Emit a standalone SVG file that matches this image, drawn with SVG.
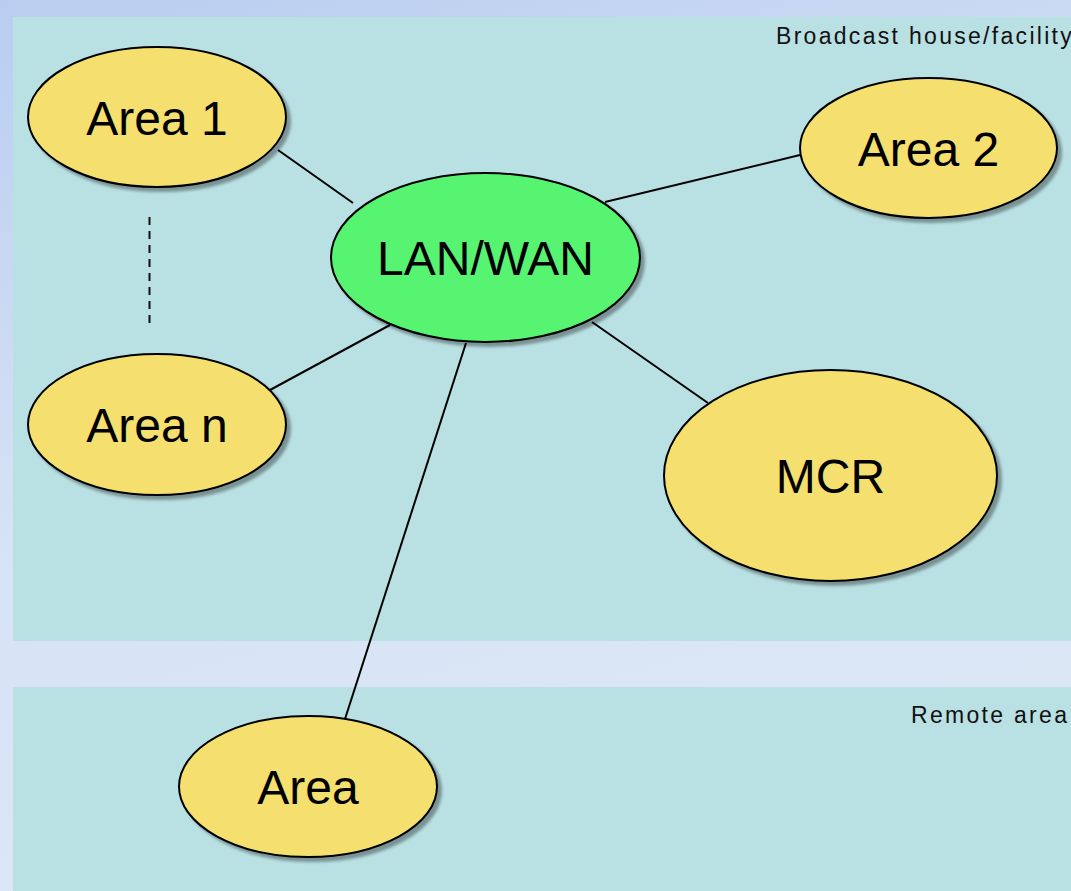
<svg xmlns="http://www.w3.org/2000/svg" width="1071" height="891" viewBox="0 0 1071 891">
  <defs>
    <linearGradient id="bg" x1="0" y1="0" x2="0.35" y2="1">
      <stop offset="0" stop-color="#bacdf0"/>
      <stop offset="0.55" stop-color="#d6e3f5"/>
      <stop offset="1" stop-color="#dce7f6"/>
    </linearGradient>
    <filter id="shadow" x="-10%" y="-10%" width="125%" height="130%">
      <feGaussianBlur in="SourceAlpha" stdDeviation="1.5"/>
      <feOffset dx="4" dy="4" result="off"/>
      <feComponentTransfer><feFuncA type="linear" slope="0.35"/></feComponentTransfer>
      <feMerge><feMergeNode/><feMergeNode in="SourceGraphic"/></feMerge>
    </filter>
  </defs>
  <style>
    .zone { fill: #b9e0e3; }
    .zone-label { font-family: "Liberation Sans", Arial, sans-serif; font-size: 23px; letter-spacing: 2.3px; fill: #111; }
    .area { fill: #f5df6e; stroke: #000; stroke-width: 2; filter: url(#shadow); }
    .net { fill: #57f471; stroke: #000; stroke-width: 2; filter: url(#shadow); }
    .label { font-family: "Liberation Sans", Arial, sans-serif; font-size: 48px; fill: #000; text-anchor: middle; }
    .link { stroke: #000; stroke-width: 2; fill: none; }
    .dashed { stroke: #111; stroke-width: 2; stroke-dasharray: 8 6; }
  </style>

  <!-- page background -->
  <rect x="0" y="0" width="1071" height="891" fill="url(#bg)"/>

  <!-- zones -->
  <g id="zone-facility">
    <rect class="zone" x="13" y="17" width="1058" height="624"/>
    <text class="zone-label" x="776" y="43.5">Broadcast house/facility</text>
  </g>
  <g id="zone-remote">
    <rect class="zone" x="13" y="687" width="1058" height="204"/>
    <text class="zone-label" x="911" y="723">Remote area</text>
  </g>

  <!-- connectors -->
  <g id="connectors">
    <line class="link" x1="278" y1="150" x2="353" y2="203"/>
    <line class="link" x1="605" y1="202" x2="800" y2="155"/>
    <line class="link" x1="390" y1="325" x2="270" y2="390"/>
    <line class="link" x1="592" y1="322" x2="708" y2="403"/>
    <line class="link" x1="466" y1="343" x2="345" y2="719"/>
    <line class="dashed" x1="149.5" y1="217" x2="149.5" y2="325"/>
  </g>

  <!-- nodes -->
  <g id="area-1">
    <ellipse class="area" cx="157" cy="117" rx="129" ry="70"/>
    <text class="label" x="157" y="135">Area 1</text>
  </g>
  <g id="area-2">
    <ellipse class="area" cx="928.5" cy="148" rx="128.5" ry="70"/>
    <text class="label" x="928.5" y="166">Area 2</text>
  </g>
  <g id="lan-wan">
    <ellipse class="net" cx="485.5" cy="257.5" rx="154.5" ry="84.5"/>
    <text class="label" x="485.5" y="274.5">LAN/WAN</text>
  </g>
  <g id="area-n">
    <ellipse class="area" cx="157" cy="424.5" rx="129" ry="70.5"/>
    <text class="label" x="157" y="442">Area n</text>
  </g>
  <g id="mcr">
    <ellipse class="area" cx="830.5" cy="475.5" rx="166.5" ry="105.5"/>
    <text class="label" x="830.5" y="493">MCR</text>
  </g>
  <g id="area-remote">
    <ellipse class="area" cx="308" cy="786.5" rx="129" ry="70.5"/>
    <text class="label" x="308" y="804">Area</text>
  </g>
</svg>
